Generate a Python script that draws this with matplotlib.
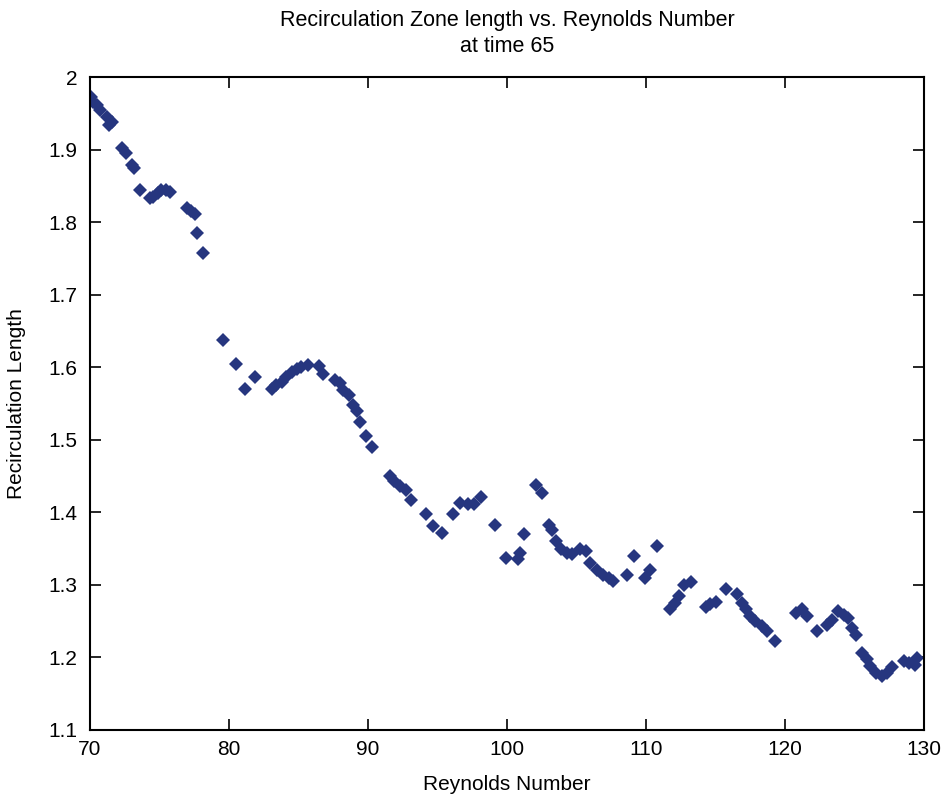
import numpy as np
import matplotlib.pyplot as plt

# Reynolds number and recirculation length
reynolds = [70.1, 70.2, 70.5, 70.7, 71.2, 71.4, 71.6, 72.3, 72.6, 73.0, 73.2, 73.6,
            74.3, 74.55, 74.9, 75.15, 75.5, 75.75, 76.95, 77.3, 77.55, 77.7, 78.15,
            79.6, 80.5, 81.15, 81.9, 83.1, 83.4, 83.8, 84.1, 84.5, 84.9, 85.2, 85.7,
            86.5, 86.8, 87.6, 88.0, 88.2, 88.6, 88.9, 89.2, 89.4, 89.85, 90.3,
            91.6, 91.9, 92.3, 92.7, 93.1, 94.2, 94.7, 95.3, 96.1, 96.6, 97.2, 97.6,
            98.1, 99.1, 99.95, 100.8, 100.9, 101.2, 102.1, 102.5, 103.0, 103.2,
            103.55, 103.9, 104.3, 104.65, 105.25, 105.7, 106.0, 106.45, 106.9,
            107.3, 107.65, 108.6, 109.1, 109.9, 110.3, 110.8, 111.7, 112.1, 112.4,
            112.7, 113.2, 114.3, 114.6, 115.0, 115.75, 116.5, 116.9, 117.2, 117.5,
            117.8, 118.3, 118.7, 119.3, 120.8, 121.2, 121.6, 122.3, 123.0, 123.35,
            123.8, 124.2, 124.55, 124.8, 125.1, 125.5, 125.9, 126.1, 126.5, 126.95,
            127.3, 127.7, 128.55, 128.9, 129.35, 129.5]
recirc_length = [1.973, 1.966, 1.961, 1.955, 1.945, 1.934, 1.938, 1.902, 1.895, 1.879,
                 1.874, 1.844, 1.833, 1.835, 1.840, 1.844, 1.844, 1.842, 1.819, 1.815,
                 1.811, 1.785, 1.758,
                 1.637, 1.605, 1.570, 1.587, 1.570, 1.576, 1.580, 1.587, 1.593, 1.597,
                 1.600, 1.603, 1.601, 1.591, 1.583, 1.578, 1.569, 1.562, 1.548, 1.539,
                 1.525, 1.505, 1.490,
                 1.450, 1.443, 1.436, 1.431, 1.417, 1.398, 1.381, 1.372, 1.397, 1.413,
                 1.412, 1.412, 1.421, 1.383, 1.337, 1.335, 1.344, 1.370, 1.438, 1.426,
                 1.383, 1.376, 1.360, 1.349, 1.344, 1.342, 1.349, 1.346, 1.330, 1.321,
                 1.314, 1.309, 1.305, 1.314, 1.339, 1.309, 1.321, 1.353, 1.266, 1.275,
                 1.285, 1.300, 1.304, 1.270, 1.274, 1.276, 1.294, 1.287, 1.275, 1.266,
                 1.257, 1.250, 1.243, 1.236, 1.222, 1.261, 1.266, 1.257, 1.236, 1.245,
                 1.252, 1.264, 1.259, 1.254, 1.241, 1.231, 1.206, 1.197, 1.188, 1.179,
                 1.174, 1.179, 1.186, 1.195, 1.192, 1.190, 1.199]

plt.rcParams['font.family'] = ['Liberation Sans', 'DejaVu Sans']

fig = plt.figure(figsize=(9.46, 7.95), dpi=100)
ax = fig.add_axes([0.095, 0.082, 0.882, 0.821])

ax.plot(reynolds, recirc_length, 'D', color='#26367f', markersize=7, markeredgewidth=0)

ax.set_xlim(70, 130)
ax.set_ylim(1.1, 2.0)
ax.set_xticks(np.arange(70, 131, 10))
ax.set_yticks(np.arange(1.1, 2.01, 0.1))
ax.set_yticklabels(['1.1', '1.2', '1.3', '1.4', '1.5', '1.6', '1.7', '1.8', '1.9', '2'])
ax.tick_params(direction='in', top=True, right=True, length=8, width=1.2, labelsize=15)
ax.tick_params(axis='x', pad=7)
ax.tick_params(axis='y', pad=9)
for s in ax.spines.values():
    s.set_linewidth(1.5)

ax.set_xlabel("Reynolds Number", fontsize=15, labelpad=12)
ax.set_ylabel("Recirculation Length", fontsize=15, labelpad=16)
ax.set_title("Recirculation Zone length vs. Reynolds Number\nat time 65", fontsize=15.5, pad=18,
             linespacing=1.35)

fig.savefig("out.png", dpi=100)
